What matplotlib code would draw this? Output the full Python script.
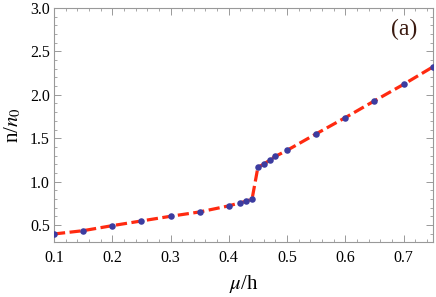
import matplotlib
matplotlib.use("Agg")
import matplotlib.pyplot as plt
from matplotlib.ticker import MultipleLocator

mu = [0.10, 0.15, 0.20, 0.25, 0.30, 0.35, 0.40, 0.42, 0.43, 0.44, 0.45,
      0.46, 0.47, 0.48, 0.50, 0.55, 0.60, 0.65, 0.70, 0.75]
n_ratio = [0.396, 0.434, 0.492, 0.546, 0.600, 0.650, 0.720, 0.757, 0.773, 0.800,
           1.166, 1.200, 1.246, 1.290, 1.360, 1.550, 1.737, 1.930, 2.120, 2.320]

plt.rcParams['font.family'] = ['Liberation Serif', 'DejaVu Serif']
plt.rcParams['mathtext.fontset'] = 'stix'

fig = plt.figure(figsize=(4.36, 2.97), dpi=100)
ax = fig.add_axes([0.1239, 0.1862, 0.8685, 0.7868])

ax.plot(mu, n_ratio, color='#ff2a10', lw=2.3, dashes=(3.5, 1.4), zorder=2)
ax.plot(mu, n_ratio, 'o', color='#3c3ca0', ms=4.7, mec='none', zorder=3)

ax.set_xlim(0.1, 0.75)
ax.set_ylim(0.307, 3.0)
ax.xaxis.set_minor_locator(MultipleLocator(0.02))
ax.yaxis.set_minor_locator(MultipleLocator(0.1))
ax.set_xticks([0.1, 0.2, 0.3, 0.4, 0.5, 0.6, 0.7])
ax.set_xticklabels(['0.1', '0.2', '0.3', '0.4', '0.5', '0.6', '0.7'])
ax.set_yticks([0.5, 1.0, 1.5, 2.0, 2.5, 3.0])
ax.set_yticklabels(['0.5', '1.0', '1.5', '2.0', '2.5', '3.0'])

for s in ax.spines.values():
    s.set_color('#999999')
    s.set_linewidth(0.8)
ax.tick_params(which='both', direction='in', top=True, right=True, colors='#999999',
               labelcolor='black', labelsize=11.5)
ax.tick_params(which='major', length=5, width=0.7)
ax.tick_params(which='minor', length=2.5, width=0.6)
ax.tick_params(axis='x', pad=6)
ax.tick_params(axis='y', pad=3)

ax.set_xlabel(r'$\mu$/h', fontsize=15, labelpad=5)
ax.set_ylabel(r'n/$n_0$', fontsize=15, labelpad=5)
ax.text(0.96, 0.91, '(a)', transform=ax.transAxes, ha='right', va='center',
        fontsize=17, color='#3a1a10')

fig.savefig('out.png', dpi=100)
